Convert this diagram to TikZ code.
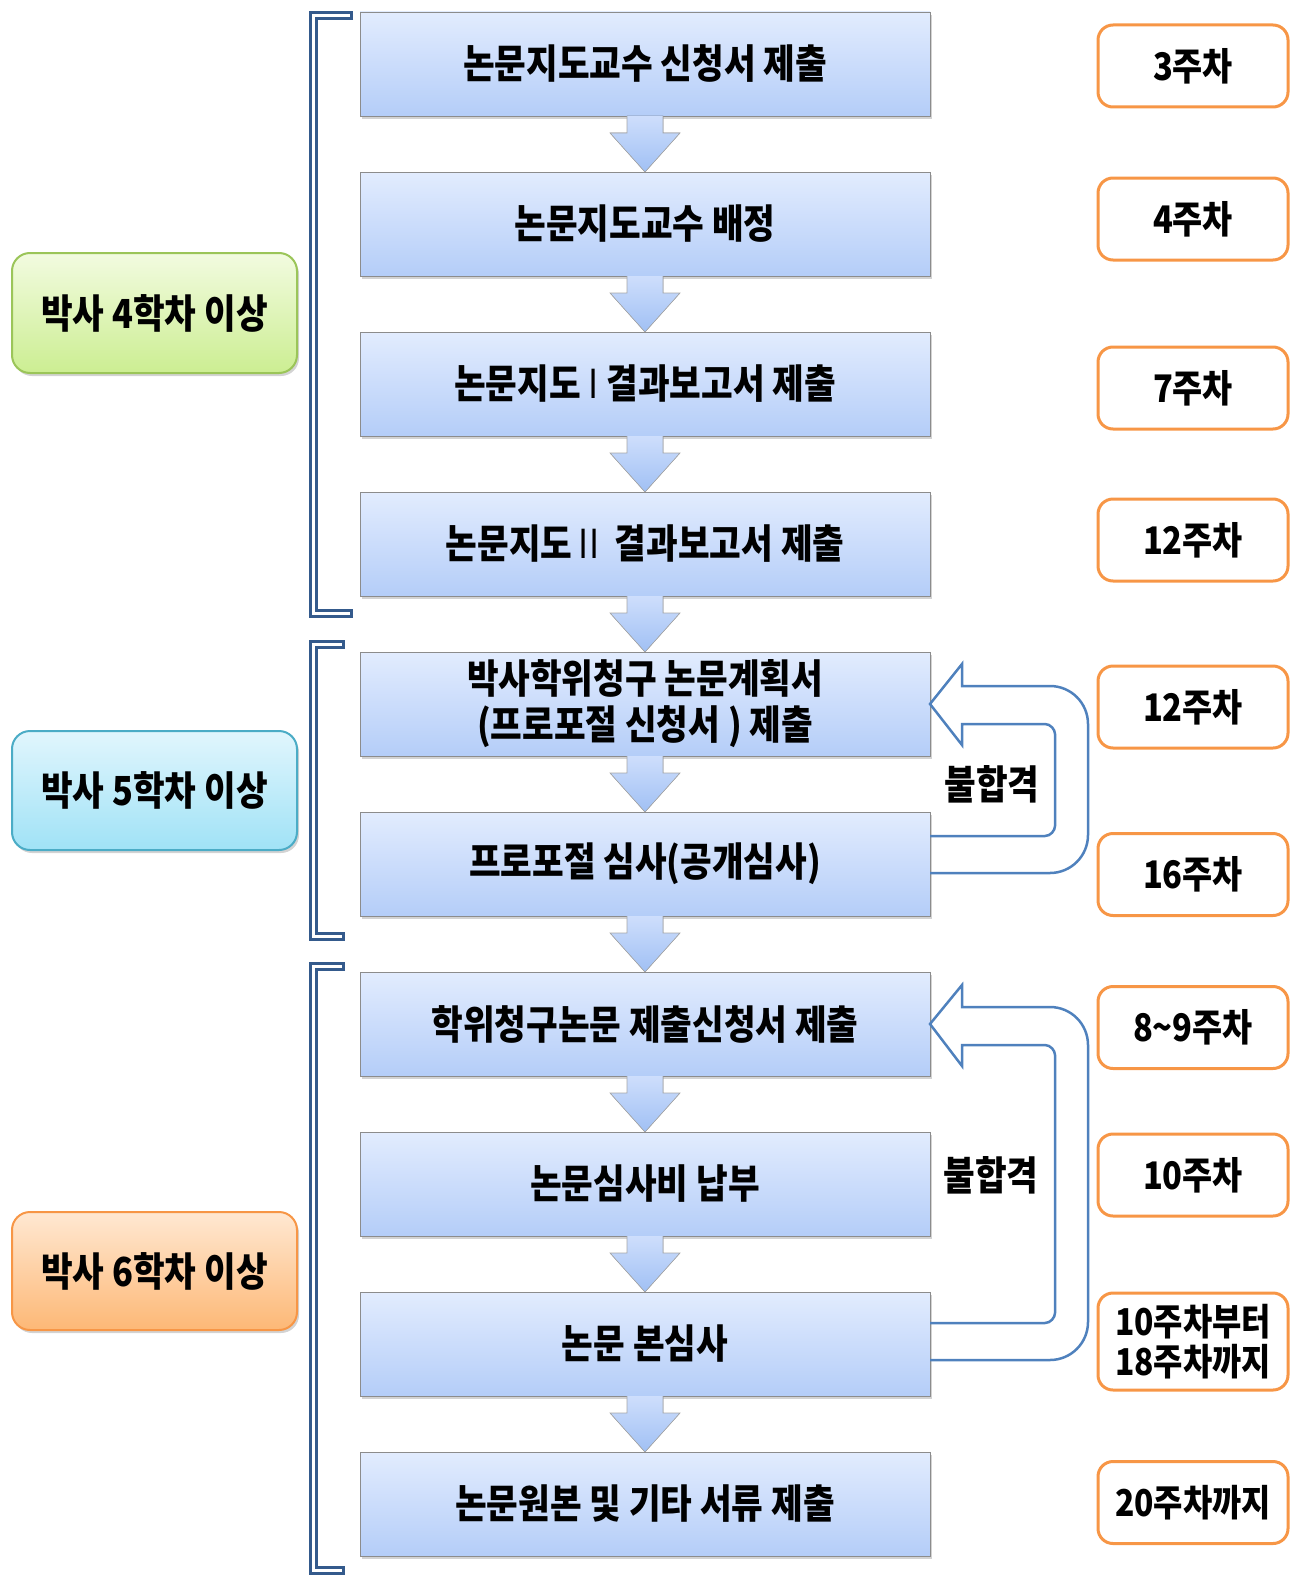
\documentclass[tikz,border=0pt]{standalone}
\usepackage{fontspec}
\setmainfont{Noto Sans CJK KR}[FakeStretch=0.86]
\usetikzlibrary{shadows,calc}
\definecolor{boxtop}{RGB}{226,236,254}
\definecolor{boxbot}{RGB}{180,205,248}
\definecolor{arrtop}{RGB}{206,222,252}
\definecolor{arrbot}{RGB}{160,192,244}
\definecolor{brk}{RGB}{52,90,140}
\definecolor{fb}{RGB}{79,129,189}
\definecolor{orng}{RGB}{247,150,70}
\begin{document}
\begin{tikzpicture}[x=1pt,y=-1pt,
  mainbox/.style={rectangle,minimum width=570pt,minimum height=104pt,inner sep=0pt,outer sep=0pt,
    top color=boxtop,bottom color=boxbot,draw=black!45,line width=0.8pt,
    drop shadow={shadow xshift=2pt,shadow yshift=-3pt,opacity=0.35},
    font=\fontsize{40}{46}\selectfont\bfseries,align=center},
  levelbox/.style={rectangle,rounded corners=18pt,minimum width=285pt,inner sep=0pt,outer sep=0pt,line width=2pt,
    drop shadow={shadow xshift=2pt,shadow yshift=-3pt,opacity=0.35},
    font=\fontsize{40}{46}\selectfont\bfseries},
  weekbox/.style={rectangle,rounded corners=15pt,minimum width=190pt,minimum height=82pt,inner sep=0pt,outer sep=0pt,
    draw=orng,line width=3pt,fill=white,font=\fontsize{38}{42}\selectfont\bfseries,align=center},
  arrfill/.style={top color=arrtop,bottom color=arrbot},
  arrline/.style={draw=black!35,line width=0.6pt,line join=miter},
  brkouter/.style={draw=brk,line width=9pt,line join=miter},
  brkinner/.style={draw=white,line width=3pt,line join=miter,shorten <=3pt,shorten >=3pt},
  fbarrow/.style={draw=fb,line width=2.5pt,line join=miter},
  fblabel/.style={font=\fontsize{40}{44}\selectfont\bfseries}
]
\useasboundingbox (0,0) rectangle (1293,1576);

% brackets
\foreach \pth in {{(353,16) -- (313,16) -- (313,613) -- (353,613)},
                  {(345,644) -- (313,644) -- (313,936) -- (345,936)},
                  {(345,966) -- (313,966) -- (313,1570) -- (345,1570)}} {
  \draw[brkouter] \pth;
  \draw[brkinner] \pth;
}

% main boxes
\node[mainbox] (b1) at (645,64) {논문지도교수 신청서 제출};
\node[mainbox] (b2) at (645,224) {논문지도교수 배정};
\node[mainbox] (b3) at (645,384) {논문지도 {\mdseries I} 결과보고서 제출};
\node[mainbox] (b4) at (645,544) {논문지도{\mdseries\,II}\ \ 결과보고서 제출};
\node[mainbox] (b5) at (645,704) {박사학위청구 논문계획서\\(프로포절 신청서 ) 제출};
\node[mainbox] (b6) at (645,864) {프로포절 심사(공개심사)};
\node[mainbox] (b7) at (645,1024) {학위청구논문 제출신청서 제출};
\node[mainbox] (b8) at (645,1184) {논문심사비 납부};
\node[mainbox] (b9) at (645,1344) {논문 본심사};
\node[mainbox] (b10) at (645,1504) {논문원본 및 기타 서류 제출};

% down arrows
\foreach \i [evaluate=\i as \j using int(\i+1)] in {1,...,9} {
  \fill[arrfill] ($(b\i.south)+(-18,0)$) -- ($(b\i.south)+(18,0)$) -- ($(b\i.south)+(18,17)$) -- ($(b\i.south)+(35,17)$) -- (b\j.north) -- ($(b\i.south)+(-35,17)$) -- ($(b\i.south)+(-18,17)$) -- cycle;
  \draw[arrline] ($(b\i.south)+(18,0)$) -- ($(b\i.south)+(18,17)$) -- ($(b\i.south)+(35,17)$) -- (b\j.north) -- ($(b\i.south)+(-35,17)$) -- ($(b\i.south)+(-18,17)$) -- ($(b\i.south)+(-18,0)$);
}

% level boxes
\node[levelbox,minimum height=120pt,top color={rgb,255:red,242;green,251;blue,224},bottom color={rgb,255:red,204;green,238;blue,146},draw={rgb,255:red,155;green,197;blue,89}] (l1) at (154.5,313) {박사 4학차 이상};
\node[levelbox,minimum height=119pt,top color={rgb,255:red,225;green,246;blue,253},bottom color={rgb,255:red,160;green,226;blue,246},draw={rgb,255:red,75;green,172;blue,198}] (l2) at (154.5,790.5) {박사 5학차 이상};
\node[levelbox,minimum height=118pt,top color={rgb,255:red,255;green,232;blue,210},bottom color={rgb,255:red,253;green,184;blue,118},draw=orng] (l3) at (154.5,1271) {박사 6학차 이상};

% week boxes
\node[weekbox] (w1) at (1193,66) {3주차};
\node[weekbox] (w2) at (1193,219) {4주차};
\node[weekbox] (w3) at (1193,388) {7주차};
\node[weekbox] (w4) at (1193,540) {12주차};
\node[weekbox] (w5) at (1193,707) {12주차};
\node[weekbox] (w6) at (1193,874.5) {16주차};
\node[weekbox] (w7) at (1193,1027.5) {8\textasciitilde9주차};
\node[weekbox] (w8) at (1193,1175) {10주차};
\node[weekbox,minimum height=97pt,font=\fontsize{37}{40}\selectfont\bfseries] (w9) at (1193,1341.5) {10주차부터\\18주차까지};
\node[weekbox,font=\fontsize{37}{40}\selectfont\bfseries] (w10) at (1193,1502.5) {20주차까지};

% feedback arrows
\draw[fbarrow] (b6.east |- 0,836) -- (1045,836) .. controls (1050.5,836) and (1055,830.5) .. (1055,826)
  -- (1055,734) .. controls (1055,729.5) and (1050.5,724) .. (1045,724) -- (962,724) -- (962,745)
  -- (b5.east) -- (962,664) -- (962,686) -- (1050,686) .. controls (1071,686) and (1088,703) .. (1088,724)
  -- (1088,835) .. controls (1088,856) and (1071,873) .. (1050,873) -- (b6.east |- 0,873);
\node[fblabel] (f1) at (992,784) {불합격};

\draw[fbarrow] (b9.east |- 0,1323) -- (1045,1323) .. controls (1050.5,1323) and (1055,1317.5) .. (1055,1313)
  -- (1055,1055) .. controls (1055,1050.5) and (1050.5,1045) .. (1045,1045) -- (962,1045) -- (962,1066)
  -- (b7.east) -- (962,985) -- (962,1007) -- (1050,1007) .. controls (1071,1007) and (1088,1024) .. (1088,1045)
  -- (1088,1322) .. controls (1088,1343) and (1071,1360) .. (1050,1360) -- (b9.east |- 0,1360);
\node[fblabel] (f2) at (991,1175) {불합격};
\end{tikzpicture}
\end{document}
